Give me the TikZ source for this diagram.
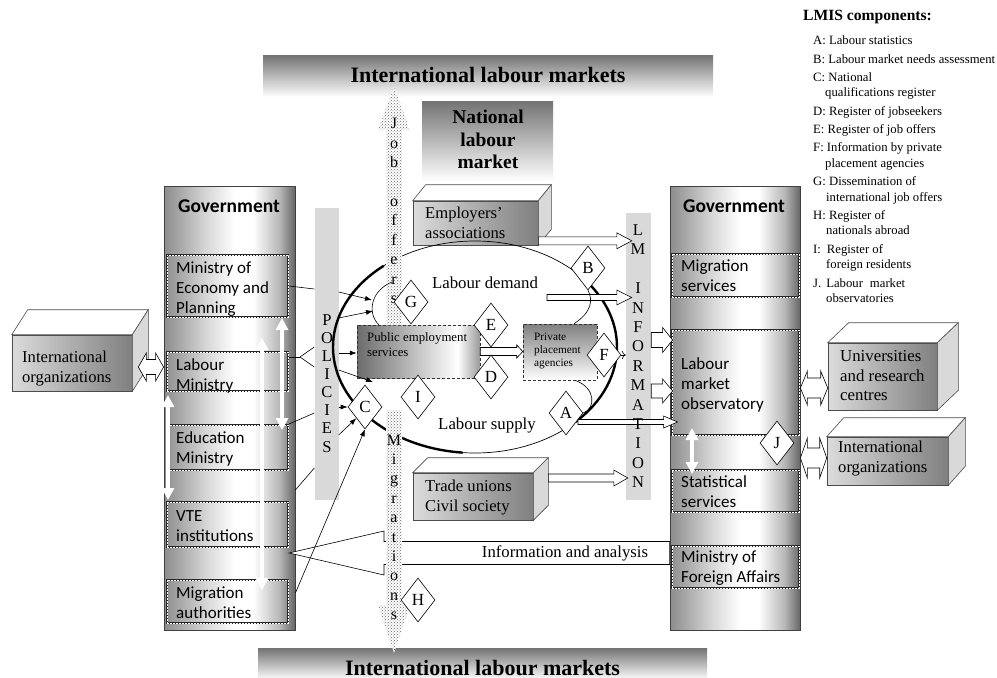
\documentclass[tikz,border=0pt]{standalone}
\usepackage{fontspec}
\setmainfont{Liberation Serif}
\newfontfamily\carl{Carlito}
\usetikzlibrary{shapes.geometric,arrows.meta,patterns,calc}
\definecolor{m1}{gray}{0.55}
\definecolor{m2}{gray}{0.84}
\definecolor{m3}{gray}{0.72}
\definecolor{m4}{gray}{0.4}
\definecolor{p1}{gray}{0.42}
\definecolor{p2}{gray}{0.85}
\definecolor{p3}{gray}{0.6}
\definecolor{pp1}{gray}{0.5}
\definecolor{f1}{gray}{0.86}
\definecolor{f2}{gray}{0.5}
\definecolor{bangray}{gray}{0.45}
\definecolor{barfill}{gray}{0.85}
\pgfdeclarehorizontalshading{metal}{100bp}{color(0bp)=(m1); color(25bp)=(m1); color(41bp)=(m2); color(52bp)=(white); color(59bp)=(white); color(69bp)=(m3); color(75bp)=(m4); color(100bp)=(m4)}
\pgfdeclarehorizontalshading{pesshade}{100bp}{color(0bp)=(p1); color(25bp)=(p1); color(55bp)=(p2); color(66bp)=(white); color(75bp)=(p3); color(100bp)=(p3)}
\newcommand{\hollowR}[5]{\draw[hol] let \p1=(#1), \p2=(#2) in (\x1,\y1+#3) -- (\x2-#4,\y1+#3) -- (\x2-#4,\y1+#5) -- (\x2,\y1) -- (\x2-#4,\y1-#5) -- (\x2-#4,\y1-#3) -- (\x1,\y1-#3) -- cycle;}
\newcommand{\hollowL}[5]{\draw[hol] let \p1=(#1), \p2=(#2) in (\x1,\y1+#3) -- (\x2+#4,\y1+#3) -- (\x2+#4,\y1+#5) -- (\x2,\y1) -- (\x2+#4,\y1-#5) -- (\x2+#4,\y1-#3) -- (\x1,\y1-#3) -- cycle;}
\newcommand{\hollowD}[5]{\draw[hol] let \p1=(#1), \p2=(#2) in (\x1,\y1) -- (\x1+#4,\y1+#5) -- (\x1+#4,\y1+#3) -- (\x2-#4,\y1+#3) -- (\x2-#4,\y1+#5) -- (\x2,\y1) -- (\x2-#4,\y1-#5) -- (\x2-#4,\y1-#3) -- (\x1+#4,\y1-#3) -- (\x1+#4,\y1-#5) -- cycle;}
\newcommand{\boxfaces}[3]{\draw[topface] (#1.north west) -- ++(#2,-#3) -- ($(#1.north east)+(#2,-#3)$) -- (#1.north east) -- cycle; \draw[sideface] (#1.north east) -- ++(#2,-#3) -- ($(#1.south east)+(#2,-#3)$) -- (#1.south east) -- cycle;}
\tikzset{
 col/.style={draw=black!75, line width=0.8pt, shade, shading=metal, minimum height=444pt, inner sep=0pt},
 subbox/.style={draw=black!85, line width=2pt, postaction={draw=white, line width=0.9pt, dash pattern=on 1.6pt off 1.4pt}, inner sep=0pt},
 subtext/.style={align=left, font=\carl\fontsize{17}{20}\selectfont, anchor=west, inner sep=0pt},
 govtitle/.style={font=\carl\bfseries\fontsize{19.5}{20}\selectfont, inner sep=0pt},
 vbar/.style={fill=barfill, inner sep=0pt, minimum width=24pt},
 letters/.style={align=center, inner sep=0pt, font=\fontsize{16.5}{18.1}\selectfont},
 dia/.style={diamond, draw=black, line width=0.6pt, fill=white, minimum width=34pt, minimum height=44pt, inner sep=0pt, font=\fontsize{17}{17}\selectfont},
 con/.style={line width=0.6pt, -{Latex[length=7pt,width=5pt]}},
 ln/.style={line width=0.6pt},
 frontface/.style={draw=black!70, line width=0.6pt, left color=f1, right color=f2, inner sep=0pt},
 topface/.style={draw=black!70, line width=0.6pt, fill=white},
 sideface/.style={draw=black!70, line width=0.6pt, fill=black!15},
 boxtext/.style={anchor=west, align=left, inner sep=0pt, font=\fontsize{16.6}{20}\selectfont},
 hol/.style={draw=black, line width=0.6pt, fill=white},
 dotfill/.style={pattern=crosshatch dots, pattern color=black!60},
 warr/.style={draw=white, line width=4.5pt, {Triangle[width=12pt,length=12pt]}-{Triangle[width=12pt,length=12pt]}},
 banner/.style={top color=bangray, bottom color=white, inner sep=0pt},
 pesbox/.style={shade, shading=pesshade, draw=black!80, densely dashed, line width=0.5pt, inner sep=0pt},
 ppabox/.style={top color=pp1, bottom color=white, draw=black!80, densely dashed, line width=0.5pt, inner sep=0pt},
}
\begin{document}
\begin{tikzpicture}[x=1pt,y=-1pt]
\useasboundingbox (0,0) rectangle (997,678);
\fill[white] (0,0) rectangle (997,678);

% banners
\node[banner, minimum width=450pt, minimum height=42pt] (topban) at (488,76) {};
\node[anchor=base, inner sep=0pt, font=\bfseries\fontsize{22}{22}\selectfont] (topbant) at (488,82) {International labour markets};
\node[banner, minimum width=449pt, minimum height=32pt] (botban) at (482.5,664) {};
\node[anchor=base, inner sep=0pt, font=\bfseries\fontsize{22}{22}\selectfont] (botbant) at (482.5,675) {International labour markets};
\node[banner, minimum width=131pt, minimum height=80pt] (nat) at (487.5,141) {};
\node[align=center, inner sep=0pt, font=\bfseries\fontsize{19.5}{22.5}\selectfont] (natt) at (488,139.5) {National\\labour\\market};

% left government column
\node[col, minimum width=131pt] (lgov) at (229.5,408) {};
\node[govtitle] (lgovt) at (229,206) {Government};
\node[subbox, minimum width=121pt, minimum height=62pt] (meco) at (227.5,286) {};
\node[subtext] (mecot) at (176,289) {Ministry of\\Economy and\\Planning};
\node[subbox, minimum width=121pt, minimum height=39pt] (labm) at (227.5,371.5) {};
\node[subtext] (labmt) at (176,376) {Labour\\Ministry};
\node[subbox, minimum width=121pt, minimum height=45pt] (edum) at (227.5,447.5) {};
\node[subtext] (edumt) at (176,449) {Education\\Ministry};
\node[subbox, minimum width=121pt, minimum height=45pt] (vte) at (227.5,524.5) {};
\node[subtext] (vtet) at (176,526.5) {VTE\\institutions};
\node[subbox, minimum width=121pt, minimum height=43pt] (miga) at (227.5,601.5) {};
\node[subtext] (migat) at (176,602.5) {Migration\\authorities};
\coordinate (wa1a) at (282,318); \coordinate (wa1b) at (282,430);
\coordinate (wa2a) at (168,395); \coordinate (wa2b) at (168,500);
\coordinate (wa3a) at (262,338); \coordinate (wa3b) at (262,590);
\draw[warr] (wa1a) -- (wa1b);
\draw[warr] (wa2a) -- (wa2b);
\draw[warr] (wa3a) -- (wa3b);

% right government column
\node[col, minimum width=130pt] (rgov) at (735,408) {};
\node[govtitle] (rgovt) at (734,206) {Government};
\node[subbox, minimum width=127pt, minimum height=43pt] (migs) at (735.5,275.5) {};
\node[subtext] (migst) at (681,275.5) {Migration\\services};
\node[subbox, minimum width=127pt, minimum height=105pt] (lmo) at (735.5,382.5) {};
\node[subtext] (lmot) at (681,385) {Labour\\market\\observatory};
\node[subbox, minimum width=127pt, minimum height=42pt] (stat) at (735.5,491) {};
\node[subtext] (statt) at (681,491.5) {Statistical\\services};
\node[subbox, minimum width=127pt, minimum height=42pt] (mfa) at (735.5,567) {};
\node[subtext] (mfat) at (681,568) {Ministry of\\Foreign Affairs};
\coordinate (wa4a) at (692,428); \coordinate (wa4b) at (692,474);
\draw[warr] (wa4a) -- (wa4b);

% bars
\node[vbar, minimum height=292pt] (polbar) at (326.5,354) {};
\node[vbar, minimum width=25pt, minimum height=287pt] (lmbar) at (638.5,356.5) {};

% 3D boxes
\node[frontface, minimum width=125pt, minimum height=44pt] (emp) at (475.5,223) {};
\boxfaces{emp}{13}{16}
\node[boxtext] (empt) at (425,222.4) {Employers’\\associations};
\node[frontface, minimum width=120pt, minimum height=47pt] (tu) at (473,496.5) {};
\boxfaces{tu}{15}{15}
\node[boxtext] (tut) at (425,498) {Trade unions\\Civil society};
\node[frontface, minimum width=120pt, minimum height=56pt] (lio) at (72,363) {};
\boxfaces{lio}{16}{25}
\node[boxtext] (liot) at (22,369) {International\\organizations};
\node[frontface, minimum width=109pt, minimum height=67pt] (univ) at (882.5,376.5) {};
\boxfaces{univ}{21}{20}
\node[boxtext, font=\fontsize{16.8}{19.5}\selectfont] (univt) at (840,375.8) {Universities\\and research\\centres};
\node[frontface, minimum width=121pt, minimum height=48pt] (rio) at (887.5,461) {};
\boxfaces{rio}{17}{19}
\node[boxtext] (riot) at (838,459) {International\\organizations};

% labour market ellipse
\coordinate (ec) at (475,347);
\draw[line width=0.7pt] (ec) ellipse [x radius=142pt, y radius=106pt];
\draw[line width=2.4pt] (ec) ++(130:142pt and 106pt) arc [start angle=130, end angle=265, x radius=142pt, y radius=106pt];
\draw[line width=2.4pt] (ec) ++(-45:142pt and 106pt) arc [start angle=-45, end angle=45, x radius=142pt, y radius=106pt];
\node[font=\fontsize{16.8}{20}\selectfont] (ldem) at (485,283) {Labour demand};
\node[font=\fontsize{16.8}{20}\selectfont] (lsup) at (487,425) {Labour supply};

% PES and private placement
\node[pesbox, minimum width=123pt, minimum height=53pt] (pes) at (418.5,351.5) {};
\node[anchor=west, align=left, inner sep=0pt, font=\fontsize{12.8}{15}\selectfont] (pest) at (367,345) {Public employment\\services};
\node[ppabox, minimum width=74pt, minimum height=56pt] (ppa) at (560,352) {};
\node[anchor=west, align=left, inner sep=0pt, font=\fontsize{11.3}{13}\selectfont] (ppat) at (534,351) {Private\\placement\\agencies};

% information and analysis
\hollowL{rgov.west |- 0,553}{vte.east}{11.5pt}{95pt}{22pt}
\node[font=\fontsize{16.7}{20}\selectfont] (infot) at (565,553) {Information and analysis};

% hollow arrows
\hollowR{$(emp.south east)+(0,-4.5)$}{$(lmbar.west)+(6,0)$}{4pt}{15pt}{8pt}
\coordinate (ldst) at (547,297.5);
\hollowR{ldst}{$(lmbar.west)+(6,0)$}{3pt}{15pt}{7.5pt}
\hollowR{lmbar.east |- 0,340}{$(rgov.west)+(3,0)$}{7.5pt}{10pt}{12.5pt}
\hollowR{lmbar.east |- 0,391}{$(rgov.west)+(3,0)$}{7pt}{10pt}{12pt}
\coordinate (ast) at (578,422);
\hollowR{ast}{$(rgov.west)+(8,0)$}{2.5pt}{14pt}{6pt}
\hollowR{$(tu.east)+(15,-18.5)$}{$(lmbar.west)+(2,0)$}{4pt}{14pt}{8pt}
\hollowR{pes.east}{ppa.west}{4pt}{6pt}{6.5pt}
\hollowD{$(lio.east)+(6,4)$}{lgov.west}{7.5pt}{8pt}{14pt}
\hollowD{rgov.east |- 0,388}{univ.west}{10pt}{7pt}{17pt}
\hollowD{rgov.east |- 0,458}{rio.west}{10pt}{7pt}{20pt}

% dotted arrows
\path[fill=white] (394,87) -- (410,130) -- (402,130) -- (402,325) -- (386,325) -- (386,130) -- (378,130) -- cycle;
\path[dotfill] (394,87) -- (410,130) -- (402,130) -- (402,325) -- (386,325) -- (386,130) -- (378,130) -- cycle;
\node[letters, font=\fontsize{16}{19.4}\selectfont] (jobt) at (394,211) {J\\o\\b\\\mbox{}\\o\\f\\f\\e\\r\\s};
\path[fill=white] (386,410) -- (402,410) -- (402,605) -- (410,605) -- (394,653) -- (378,605) -- (386,605) -- cycle;
\path[dotfill] (386,410) -- (402,410) -- (402,605) -- (410,605) -- (394,653) -- (378,605) -- (386,605) -- cycle;
\node[letters, font=\fontsize{16}{19.4}\selectfont] (migt) at (394,527.3) {M\\i\\g\\r\\a\\t\\i\\o\\n\\s};

% bar letters
\node[letters] (polt) at (327,383.4) {P\\O\\L\\I\\C\\I\\E\\S};
\node[letters, font=\fontsize{16.5}{19.4}\selectfont] (lmt) at (638,356.1) {L\\M\\\mbox{}\\I\\N\\F\\O\\R\\M\\A\\T\\I\\O\\N};

% LMIS component diamonds
\node[dia] (B) at (588,268) {B};
\node[dia] (G) at (411,302) {G};
\node[dia] (E) at (491,325) {E};
\node[dia] (D) at (491,377) {D};
\node[dia] (F) at (604,355) {F};
\node[dia] (A) at (566,413) {A};
\node[dia] (I) at (418,397) {I};
\node[dia] (C) at (365,407) {C};
\node[dia] (H) at (418,600) {H};
\node[dia] (J) at (777,443) {J};

% thin inner arcs
\coordinate (ia1) at (392,282); \coordinate (ia2) at (379,325);
\draw[ln] (ia1) .. controls (372,290) and (366,312) .. (ia2);
\draw[ln] ($(ppa.north)+(14,0)$) .. controls (592,312) and (593,300) .. (B.south);
\draw[ln] ($(ppa.south)+(15,0)$) .. controls (596,388) and (596,408) .. (A.east);

% line connectors
\coordinate (fk) at (300,357);
\coordinate (g1) at (372,300);
\coordinate (g2) at (373,311);
\coordinate (g3) at (373,382);
\draw[ln] (meco.east) -- (polbar.west |- 0,289);
\draw[con] (polbar.east |- 0,292) -- (g1);
\draw[con] (polbar.east |- 0,318) -- (g2);
\draw[ln] (labm.east |- 0,357) -- (fk);
\draw[ln] (fk) -- (polbar.west |- 0,347);
\draw[ln] (fk) -- (polbar.west |- 0,367);
\draw[con] (polbar.east |- 0,353) -- (pes.west |- 0,353);
\draw[con] (polbar.east |- 0,370) -- (g3);
\draw[ln] (edum.north east) -- (polbar.west |- 0,413);
\draw[con] (polbar.east |- 0,407) -- (C.west);
\draw[ln] (lgov.east |- 0,490) -- (polbar.west |- 0,468);
\draw[con] (polbar.east |- 0,435) -- (C.south west);
\draw[con] (lgov.east |- 0,593) -- (C.south);
\draw[ln, -{To[length=4pt]}] (F.east) -- (lmbar.west |- F.east);

% legend
\node[anchor=base west, inner sep=0pt, font=\bfseries\fontsize{15.6}{18}\selectfont] (lmist) at (803,20) {LMIS components:};
\node[anchor=north west, align=left, inner sep=0pt, font=\fontsize{12.7}{15.5}\selectfont] (lmisl) at (813,35.8) {A: Labour statistics\\[2.8pt]
B: Labour market needs assessment\\[2.8pt]
C: National\\
\hspace*{12pt}qualifications register\\[2.8pt]
D: Register of jobseekers\\[2.8pt]
E: Register of job offers\\[2.8pt]
F: Information by private\\
\hspace*{12pt}placement agencies\\[2.8pt]
G: Dissemination of\\
\hspace*{13pt}international job offers\\[2.8pt]
H: Register of\\
\hspace*{13pt}nationals abroad\\[2.8pt]
I:\hspace{6pt}Register of\\
\hspace*{13pt}foreign residents\\[2.8pt]
J.\hspace{5pt}Labour\hspace{7pt}market\\
\hspace*{13pt}observatories};
\end{tikzpicture}
\end{document}
